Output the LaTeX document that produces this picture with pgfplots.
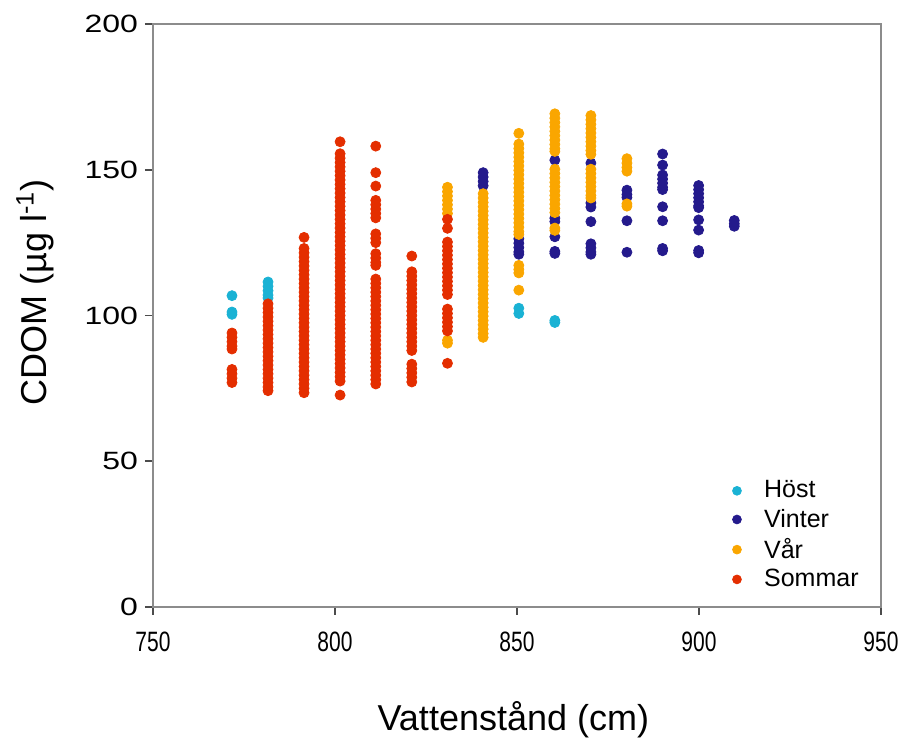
\documentclass[border=0pt]{standalone}
\usepackage{fontspec}
\setmainfont{Liberation Sans}
\usepackage{graphicx}
\usepackage{pgfplots}
\pgfplotsset{compat=1.18}
\definecolor{hostc}{RGB}{26,178,212}
\definecolor{vinterc}{RGB}{36,26,140}
\definecolor{varc}{RGB}{250,166,0}
\definecolor{sommarc}{RGB}{228,46,0}
\pgfplotsset{pt/.style={only marks, mark=*, mark size=2.5pt, draw=#1, fill=#1, mark options={draw=#1, fill=#1},
  legend image code/.code={\draw[##1,mark size=2.2pt] plot coordinates {(0cm,0cm)}; \path (-0.1cm,0cm) (0.4cm,0cm);}}}
\begin{document}
\begin{tikzpicture}
\begin{axis}[name=ax,
  scale only axis, width=364pt, height=291.5pt,
  xmin=750, xmax=950, ymin=0, ymax=200,
  xtick={750,800,...,950}, ytick={0,50,...,200},
  xtick pos=left, ytick pos=left, tick align=outside,
  major tick length=4pt,
  axis line style={draw=black!45, line width=0.9pt},
  major tick style={draw=black!70, line width=0.9pt},
  /pgf/number format/assume math mode=true,
  /pgf/number format/1000 sep={},
  xticklabel style={font=\fontsize{14}{16}\selectfont, yshift=-5pt, inner xsep=0pt},
  yticklabel style={font=\fontsize{12.5}{14}\selectfont},
  xticklabel={\scalebox{0.75}[1]{\pgfmathprintnumber{\tick}}},
  yticklabel={\scalebox{1.28}[1]{\pgfmathprintnumber{\tick}}},
  xlabel={Vattenstånd (cm)},
  ylabel={CDOM (µg l\textsuperscript{-1})},
  label style={font=\fontsize{18}{20}\selectfont},
  xlabel style={at={(axis description cs:0.495,-0.194)}, anchor=center},
  ylabel style={at={(axis description cs:-0.162,0.54)}, anchor=center},
  legend style={draw=none, fill=none, at={(axis cs:907.0,46.2)}, anchor=north west,
    font=\fontsize{12.5}{14}\selectfont, row sep=0pt},
  legend cell align=left,
]
% Höst
\addplot[pt=hostc] coordinates {
(771.7,106.8) (771.7,101.2) (771.7,100.4)
(781.6,111.5) (781.6,110) (781.6,108.5) (781.6,107) (781.6,106)
(850.5,102.5) (850.5,100.7)
(860.4,98.3) (860.4,97.6)
};
\addlegendentry{Höst}
% Vinter
\addplot[pt=vinterc] coordinates {
(840.7,149) (840.7,147.5) (840.7,146) (840.7,144.5)
(850.5,126.3) (850.5,124.8) (850.5,123.3) (850.5,121.8) (850.5,121)
(860.4,153.3) (860.4,133.4) (860.4,132.2) (860.4,127) (860.4,122) (860.4,121.3)
(870.3,152.3) (870.3,138.6) (870.3,137.2) (870.3,132.2) (870.3,124.6) (870.3,123.2) (870.3,121.8) (870.3,121)
(880.2,143) (880.2,141.5) (880.2,140.5) (880.2,132.5) (880.2,121.7)
(890.0,155.4) (890.0,151.6) (890.0,148.2) (890.0,146.8) (890.0,145.4) (890.0,144) (890.0,143.2) (890.0,137.3) (890.0,132.5) (890.0,123) (890.0,122.2)
(899.9,144.6) (899.9,143.2) (899.9,141.8) (899.9,140.4) (899.9,139) (899.9,137.6) (899.9,137) (899.9,132.8) (899.9,129.3) (899.9,122.3) (899.9,121.5)
(909.7,132.6) (909.7,131.5) (909.7,130.6)
};
\addlegendentry{Vinter}
% Vår
\addplot[pt=varc] coordinates {
(830.9,144) (830.9,142.5) (830.9,141) (830.9,139.5) (830.9,138) (830.9,136.5) (830.9,135) (830.9,91.5) (830.9,90.5)
(840.7,141.8) (840.7,140.3) (840.7,138.8) (840.7,137.3) (840.7,135.8) (840.7,134.3) (840.7,132.8) (840.7,131.3) (840.7,129.8) (840.7,128.3)
(840.7,126.8) (840.7,125.3) (840.7,123.8) (840.7,122.3) (840.7,120.8) (840.7,119.3) (840.7,117.8) (840.7,116.3) (840.7,114.8) (840.7,113.3)
(840.7,111.8) (840.7,110.3) (840.7,108.8) (840.7,107.3) (840.7,105.8) (840.7,104.3) (840.7,102.8) (840.7,101.3) (840.7,99.8) (840.7,98.3)
(840.7,96.8) (840.7,95.3) (840.7,93.8) (840.7,92.5)
(850.5,162.5) (850.5,158.8) (850.5,157.3) (850.5,155.8) (850.5,154.3) (850.5,152.8) (850.5,151.3) (850.5,149.8) (850.5,148.3) (850.5,146.8)
(850.5,145.3) (850.5,143.8) (850.5,142.3) (850.5,140.8) (850.5,139.3) (850.5,137.8) (850.5,136.3) (850.5,134.8) (850.5,133.3) (850.5,131.8)
(850.5,130.3) (850.5,128.8) (850.5,127.8) (850.5,117.2) (850.5,115.8) (850.5,114.6) (850.5,108.7)
(860.4,169.2) (860.4,167.7) (860.4,166.2) (860.4,164.7) (860.4,163.2) (860.4,161.7) (860.4,160.2) (860.4,158.7) (860.4,157.2) (860.4,156.3)
(860.4,150.2) (860.4,148.7) (860.4,147.2) (860.4,145.7) (860.4,144.2) (860.4,142.7) (860.4,141.2) (860.4,139.7) (860.4,138.2) (860.4,136.7)
(860.4,135.3) (860.4,130) (860.4,129.2)
(870.3,168.6) (870.3,167.1) (870.3,165.6) (870.3,164.1) (870.3,162.6) (870.3,161.1) (870.3,159.6) (870.3,158.1) (870.3,156.6) (870.3,155.3)
(870.3,150.2) (870.3,148.7) (870.3,147.2) (870.3,145.7) (870.3,144.2) (870.3,142.7) (870.3,141.2) (870.3,140.3)
(880.2,153.8) (880.2,152.3) (880.2,150.8) (880.2,149.5) (880.2,138.3) (880.2,137.5)
};
\addlegendentry{Vår}
% Sommar
\addplot[pt=sommarc] coordinates {
(771.7,94) (771.7,92.5) (771.7,91) (771.7,89.5) (771.7,88.5) (771.7,81.5) (771.7,80) (771.7,78.5) (771.7,77)
(781.6,104) (781.6,102.5) (781.6,101) (781.6,99.5) (781.6,98) (781.6,96.5) (781.6,95) (781.6,93.5) (781.6,92) (781.6,90.5)
(781.6,89) (781.6,87.5) (781.6,86) (781.6,84.5) (781.6,83) (781.6,81.5) (781.6,80) (781.6,78.5) (781.6,77) (781.6,75.5) (781.6,74.2)
(791.5,126.8) (791.5,123) (791.5,121.5) (791.5,120) (791.5,118.5) (791.5,117) (791.5,115.5) (791.5,114) (791.5,112.5) (791.5,111)
(791.5,109.5) (791.5,108) (791.5,106.5) (791.5,105) (791.5,103.5) (791.5,102) (791.5,100.5) (791.5,99) (791.5,97.5) (791.5,96)
(791.5,94.5) (791.5,93) (791.5,91.5) (791.5,90) (791.5,88.5) (791.5,87) (791.5,85.5) (791.5,84) (791.5,82.5) (791.5,81)
(791.5,79.5) (791.5,78) (791.5,76.5) (791.5,75) (791.5,73.5)
(801.4,159.6) (801.4,155.5) (801.4,154) (801.4,152.5) (801.4,151) (801.4,149.5) (801.4,148) (801.4,146.5) (801.4,145) (801.4,143.5)
(801.4,142) (801.4,140.5) (801.4,139) (801.4,137.5) (801.4,136) (801.4,134.5) (801.4,133) (801.4,131.5) (801.4,130) (801.4,128.5)
(801.4,127) (801.4,125.5) (801.4,124) (801.4,122.5) (801.4,121) (801.4,119.5) (801.4,118) (801.4,116.5) (801.4,115) (801.4,113.5)
(801.4,112) (801.4,110.5) (801.4,109) (801.4,107.5) (801.4,106) (801.4,104.5) (801.4,103) (801.4,101.5) (801.4,100) (801.4,98.5)
(801.4,97) (801.4,95.5) (801.4,94) (801.4,92.5) (801.4,91) (801.4,89.5) (801.4,88) (801.4,86.5) (801.4,85) (801.4,83.5)
(801.4,82) (801.4,80.5) (801.4,79) (801.4,77.5) (801.4,72.7)
(811.2,158.1) (811.2,149) (811.2,144.4) (811.2,139.5) (811.2,138) (811.2,136.5) (811.2,135) (811.2,133.5)
(811.2,128) (811.2,126.5) (811.2,125) (811.2,121.2) (811.2,119.7) (811.2,118.2) (811.2,117.2)
(811.2,112.5) (811.2,111) (811.2,109.5) (811.2,108) (811.2,106.5) (811.2,105) (811.2,103.5) (811.2,102) (811.2,100.5) (811.2,99)
(811.2,97.5) (811.2,96) (811.2,94.5) (811.2,93) (811.2,91.5) (811.2,90) (811.2,88.5) (811.2,87) (811.2,85.5) (811.2,84)
(811.2,82.5) (811.2,81) (811.2,79.5) (811.2,78) (811.2,76.5)
(821.1,120.4) (821.1,115) (821.1,113.5) (821.1,112) (821.1,110.5) (821.1,109) (821.1,107.5) (821.1,106) (821.1,104.5) (821.1,103)
(821.1,101.5) (821.1,100) (821.1,98.5) (821.1,97) (821.1,95.5) (821.1,94) (821.1,92.5) (821.1,91) (821.1,89.5) (821.1,88)
(821.1,83.3) (821.1,81.8) (821.1,80.3) (821.1,78.8) (821.1,77.2)
(830.9,133) (830.9,129.9) (830.9,125.2) (830.9,123.7) (830.9,122.2) (830.9,120.7) (830.9,119.2) (830.9,117.7) (830.9,116.2) (830.9,114.7)
(830.9,113.2) (830.9,111.7) (830.9,110.2) (830.9,108.7) (830.9,107.2) (830.9,102.2) (830.9,100.7) (830.9,99.2) (830.9,97.7) (830.9,96.2)
(830.9,94.7) (830.9,83.6)
};
\addlegendentry{Sommar}
\end{axis}
\path ([xshift=-76.5pt,yshift=-67.5pt]ax.south west) rectangle ([xshift=9.5pt,yshift=12pt]ax.north east);
\end{tikzpicture}
\end{document}
